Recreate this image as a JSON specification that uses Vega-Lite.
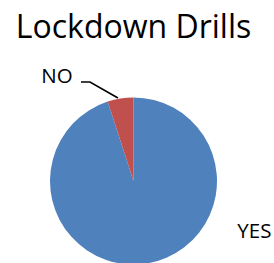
{
  "$schema": "https://vega.github.io/schema/vega-lite/v6.json",
  "autosize": {"type": "none"},
  "padding": {"left": 50, "top": 99, "right": 57, "bottom": 0},
  "width": 167,
  "height": 164,
  "title": {
    "text": "Lockdown Drills",
    "font": "Open Sans",
    "fontSize": 32,
    "fontWeight": "normal",
    "color": "#000000",
    "frame": "group",
    "anchor": "middle",
    "baseline": "alphabetic",
    "offset": -3.5
  },
  "datasets": {
    "drills": [
      {"category": "YES", "value": 95},
      {"category": "NO", "value": 5}
    ],
    "leader": [
      {"lx": -0.629, "ly": 1.207},
      {"lx": -0.521, "ly": 1.207},
      {"lx": -0.186, "ly": 1.012}
    ]
  },
  "layer": [
    {
      "data": {"name": "drills"},
      "mark": {"type": "arc", "outerRadius": 83.5},
      "encoding": {
        "theta": {"field": "value", "type": "quantitative", "stack": true},
        "order": {"field": "category", "sort": "descending"},
        "color": {
          "field": "category",
          "type": "nominal",
          "scale": {"domain": ["YES", "NO"], "range": ["#4F81BD", "#C0504D"]},
          "legend": null
        }
      }
    },
    {
      "data": {"name": "drills"},
      "mark": {"type": "text", "radius": 0, "dx": -76.6, "dy": -98.3, "font": "Open Sans", "fontSize": 20.5, "align": "center", "baseline": "alphabetic", "color": "#000000"},
      "encoding": {
        "theta": {"field": "value", "type": "quantitative", "stack": true},
        "order": {"field": "category", "sort": "descending"},
        "text": {"condition": {"test": "datum.category === 'NO'", "field": "category"}, "value": ""}
      }
    },
    {
      "data": {"name": "drills"},
      "mark": {"type": "text", "radius": 0, "dx": 120.9, "dy": 57.3, "font": "Open Sans", "fontSize": 20.5, "align": "center", "baseline": "alphabetic", "color": "#000000"},
      "encoding": {
        "theta": {"field": "value", "type": "quantitative", "stack": true},
        "order": {"field": "category", "sort": "descending"},
        "text": {"condition": {"test": "datum.category === 'YES'", "field": "category"}, "value": ""}
      }
    },
    {
      "data": {"name": "leader"},
      "mark": {"type": "line", "color": "#000000", "strokeWidth": 1.6},
      "encoding": {
        "x": {"field": "lx", "type": "quantitative", "scale": {"domain": [-1, 1], "nice": false, "zero": false}, "axis": null},
        "y": {"field": "ly", "type": "quantitative", "scale": {"domain": [-1, 1], "nice": false, "zero": false}, "axis": null}
      }
    }
  ],
  "config": {"view": {"stroke": null}}
}
